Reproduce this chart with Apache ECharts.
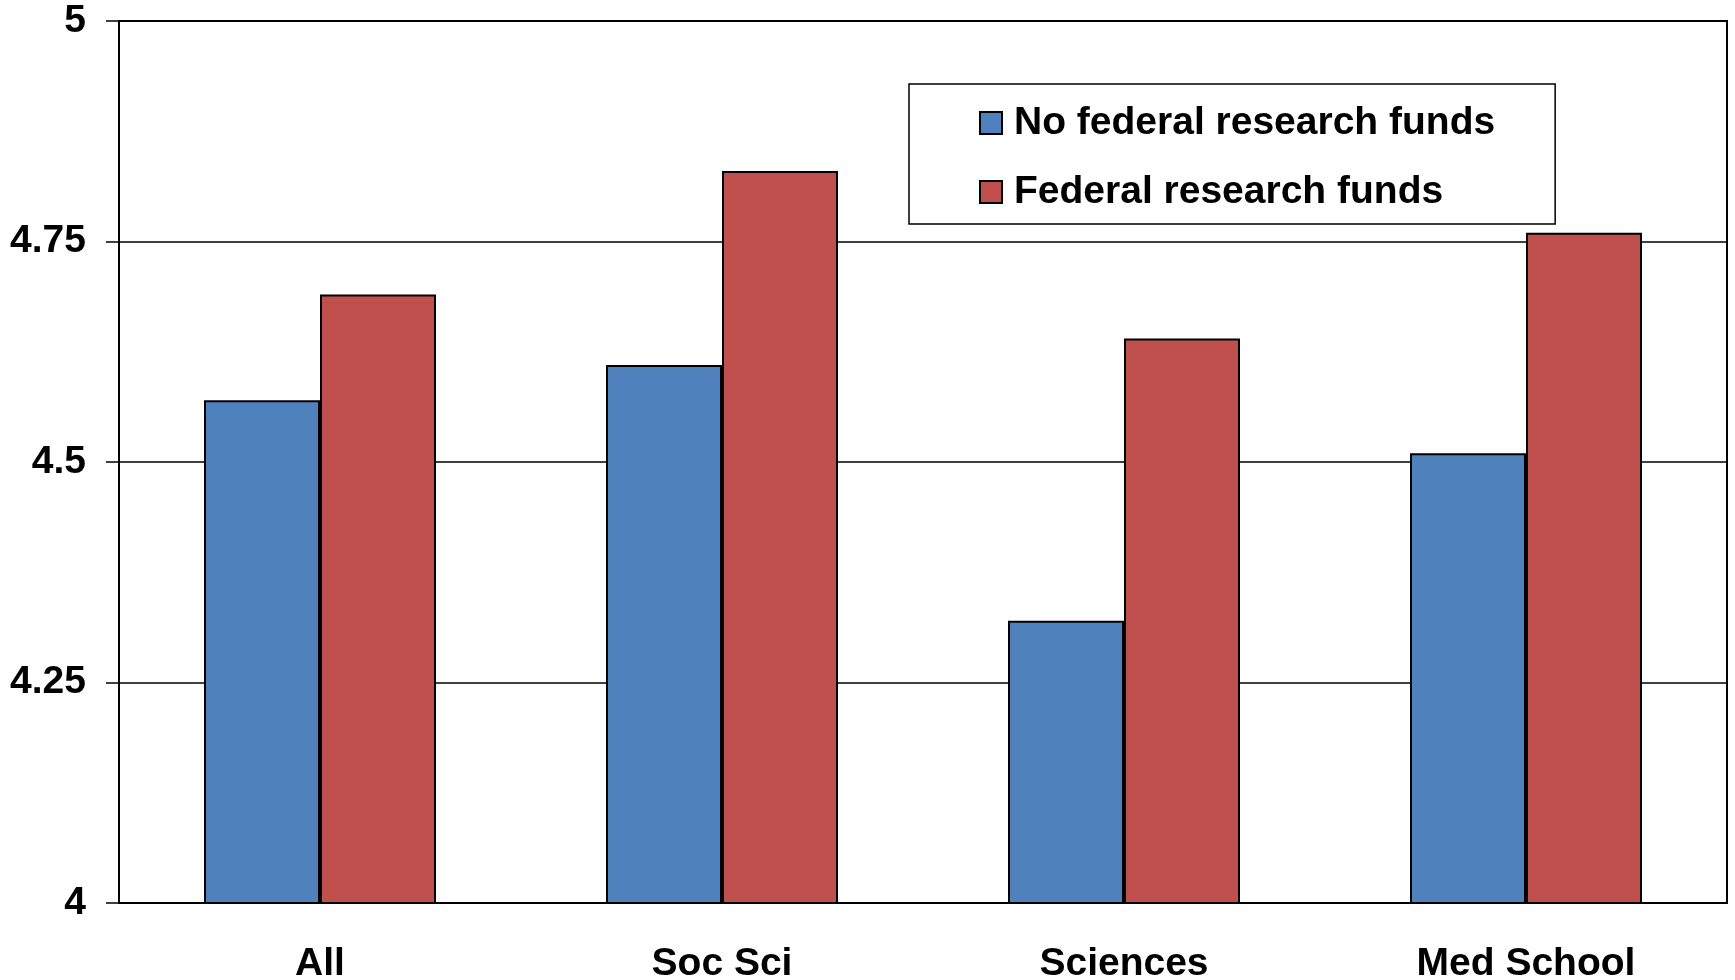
<!DOCTYPE html>
<html>
<head>
<meta charset="utf-8">
<script src="https://cdn.jsdelivr.net/npm/echarts@6/dist/echarts.min.js"></script>
<style>
  html, body { margin: 0; padding: 0; background: #fff; }
  #grafico { width: 1735px; height: 980px; }
</style>
</head>
<body>
<div id="grafico"></div>
<script>
// Datos del gráfico
const categorias = ['All', 'Soc Sci', 'Sciences', 'Med School'];
const sinFondos = [4.57, 4.61, 4.32, 4.51];   // No federal research funds
const conFondos = [4.69, 4.83, 4.64, 4.76];   // Federal research funds
const nombresSeries = ['No federal research funds', 'Federal research funds'];
const coloresSeries = ['#4F81BD', '#C0504D'];

const fuente = 'Arial, "Liberation Sans", sans-serif';
const grafico = echarts.init(document.getElementById('grafico'));

grafico.setOption({
    animation: false,
    grid: {
        left: 119, top: 21, right: 8, bottom: 77,
        outerBoundsMode: 'none',
        show: true, borderColor: '#000', borderWidth: 2, backgroundColor: '#fff'
    },
    legend: {
        orient: 'vertical',
        left: 909, top: 84,
        padding: [19, 60, 12, 70],
        borderColor: '#000', borderWidth: 1.5,
        itemWidth: 22, itemHeight: 22, itemGap: 29,
        icon: 'rect',
        textStyle: { fontFamily: fuente, fontWeight: 'bold', fontSize: 39, color: '#000', lineHeight: 34, padding: [6, 0, 0, 7] },
        data: nombresSeries
    },
    xAxis: {
        type: 'category',
        data: categorias,
        axisLine: { lineStyle: { color: '#000', width: 2 } },
        axisTick: { length: 14, lineStyle: { color: '#000', width: 1.5 } },
        axisLabel: { margin: 42, fontFamily: fuente, fontWeight: 'bold', fontSize: 39, color: '#000' }
    },
    yAxis: {
        type: 'value',
        min: 4, max: 5, interval: 0.25,
        axisLine: { show: true, lineStyle: { color: '#000', width: 2 } },
        axisTick: { show: true, length: 13, lineStyle: { color: '#000', width: 1.5 } },
        axisLabel: { margin: 33, fontFamily: fuente, fontWeight: 'bold', fontSize: 39, color: '#000' },
        splitLine: { lineStyle: { color: '#000', width: 1.5 } }
    },
    series: [
        {
            name: nombresSeries[0], type: 'bar', data: sinFondos,
            barWidth: 116, barGap: '0%',
            itemStyle: { color: coloresSeries[0], borderColor: '#000', borderWidth: 2 }
        },
        {
            name: nombresSeries[1], type: 'bar', data: conFondos,
            barWidth: 116, barGap: '0%',
            itemStyle: { color: coloresSeries[1], borderColor: '#000', borderWidth: 2 }
        }
    ]
});
</script>
</body>
</html>
